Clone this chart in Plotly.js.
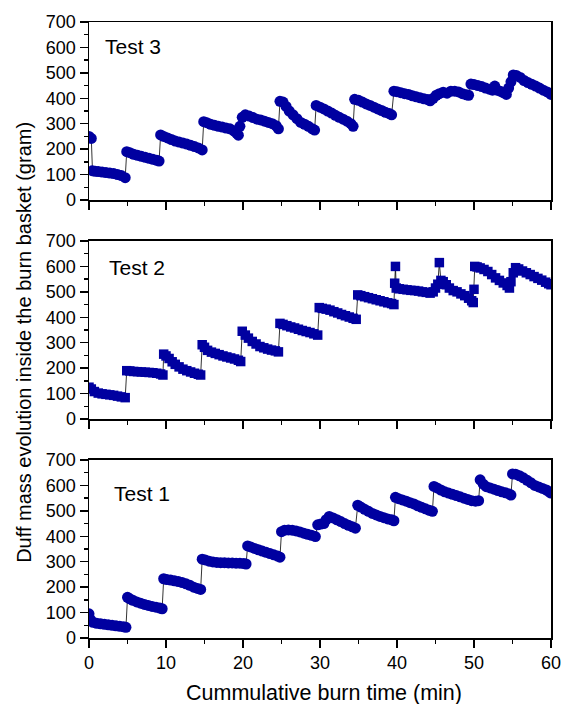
<!DOCTYPE html>
<html><head><meta charset="utf-8">
<script src="https://cdn.plot.ly/plotly-3.0.1.min.js"></script>
<style>html,body{margin:0;padding:0;background:#fff}#chart{width:563px;height:704px}</style>
</head><body><div id="chart"></div>
<script>
// Test 3 (top panel)
const t3x = [0,0.3,0.45,0.8,1.2,1.7,2.2,2.7,3.2,3.7,4.2,4.7,
 4.9,5.3,5.8,6.3,6.8,7.3,7.8,8.3,8.8,9.1,
 9.3,9.7,10.2,10.7,11.2,11.7,12.2,12.7,13.2,13.7,14.2,14.7,
 14.9,15.3,15.8,16.3,16.8,17.3,17.8,18.3,18.8,19.2,19.4,
 19.6,19.9,20.3,20.8,21.3,21.8,22.3,22.8,23.3,23.8,24.3,24.6,
 24.8,25.2,25.6,26.0,26.5,27.0,27.5,28.0,28.5,29.0,29.3,
 29.5,30.0,30.5,31.0,31.5,32.0,32.5,33.0,33.5,34.0,34.3,
 34.5,35.0,35.5,36.0,36.5,37.0,37.5,38.0,38.5,39.0,39.3,
 39.6,40.0,40.5,41.0,41.5,42.0,42.5,43.0,43.5,44.0,44.3,44.7,45.1,45.5,46.0,46.5,47.0,47.5,48.0,48.5,49.0,49.3,
 49.6,50.0,50.5,51.0,51.5,52.0,52.4,52.7,53.0,53.4,53.8,54.2,
 54.5,54.8,55.1,55.5,56.0,56.5,57.0,57.5,58.0,58.5,59.0,59.5,60.0];
const t3y = [250,242,115,113,112,110,108,106,104,100,96,88,
 190,186,180,176,172,168,164,160,156,153,
 256,250,244,238,232,228,224,220,215,210,205,197,
 308,304,298,294,290,287,283,280,272,262,255,
 290,325,335,330,324,318,315,310,305,300,292,280,
 388,385,368,350,335,320,305,298,290,280,275,
 372,365,358,350,342,333,325,318,310,300,290,
 396,392,385,378,372,365,358,352,345,340,335,
 428,426,422,418,415,410,406,402,398,395,390,400,412,418,424,420,428,428,425,418,414,412,
 456,454,450,446,440,436,432,448,432,428,422,415,
 440,465,492,490,482,470,462,455,448,440,432,425,415];

// Test 2 (middle panel)
const t2x = [0,0.3,0.7,1.2,1.7,2.2,2.7,3.2,3.7,4.2,4.7,
 4.9,5.3,5.8,6.3,6.8,7.3,7.8,8.3,8.8,9.3,9.6,
 9.7,10.0,10.4,10.8,11.2,11.7,12.2,12.7,13.2,13.7,14.2,14.5,
 14.7,15.0,15.4,15.9,16.4,16.9,17.4,17.9,18.4,18.9,19.4,19.7,
 19.9,20.3,20.7,21.2,21.7,22.2,22.7,23.2,23.7,24.2,24.6,
 24.8,25.2,25.7,26.2,26.7,27.2,27.7,28.2,28.7,29.2,29.7,
 29.9,30.3,30.8,31.3,31.8,32.3,32.8,33.3,33.8,34.3,34.7,
 34.9,35.3,35.8,36.3,36.8,37.3,37.8,38.3,38.8,39.3,39.6,
 39.7,39.8,39.9,40.3,40.8,41.3,41.8,42.3,42.8,43.3,43.8,44.3,44.7,45.0,45.3,45.5,45.7,46.0,46.4,46.8,47.3,47.8,48.3,48.8,49.3,49.7,49.9,50.0,
 50.1,50.4,50.8,51.3,51.8,52.3,52.8,53.3,53.8,54.3,54.6,
 54.8,55.1,55.4,55.8,56.3,56.8,57.3,57.8,58.3,58.8,59.3,59.7,60.0];
const t2y = [125,118,108,102,99,97,95,93,90,87,84,
 190,189,187,186,185,184,183,182,180,177,173,
 255,248,238,225,215,205,196,190,185,180,176,173,
 292,282,270,263,258,253,248,244,240,236,231,226,
 345,330,318,305,295,285,280,275,271,268,264,
 376,372,367,362,358,353,348,344,340,335,330,
 438,435,432,428,422,417,411,406,401,396,392,
 488,485,481,477,473,469,465,461,457,454,450,
 534,600,515,512,510,508,506,505,503,500,498,495,500,515,530,615,545,540,528,515,505,500,492,485,475,465,458,510,
 600,598,594,588,580,568,555,545,535,525,515,
 540,575,595,590,582,575,568,560,553,546,538,532,528];

// Test 1 (bottom panel)
const t1x = [0,0.2,0.5,1.0,1.5,2.0,2.5,3.0,3.5,4.0,4.5,4.8,
 5.0,5.3,5.7,6.2,6.7,7.2,7.7,8.2,8.7,9.2,9.5,
 9.7,10.1,10.6,11.1,11.6,12.1,12.6,13.1,13.6,14.1,14.5,
 14.7,15.1,15.6,16.1,16.6,17.1,17.6,18.1,18.6,19.1,19.6,20.1,20.4,
 20.6,21.0,21.5,22.0,22.5,23.0,23.5,24.0,24.5,24.8,
 25.0,25.4,25.9,26.4,26.9,27.4,27.9,28.4,28.9,29.4,
 29.7,30.1,30.5,30.8,31.2,31.7,32.2,32.7,33.2,33.7,34.2,34.6,
 34.9,35.3,35.8,36.3,36.8,37.3,37.8,38.3,38.8,39.3,39.6,
 39.8,40.2,40.7,41.2,41.7,42.2,42.7,43.2,43.7,44.2,44.6,
 44.8,45.2,45.7,46.2,46.7,47.2,47.7,48.2,48.7,49.2,49.7,50.2,50.6,
 50.8,51.2,51.6,52.1,52.6,53.1,53.6,54.1,54.6,54.8,
 55.0,55.4,55.9,56.4,56.9,57.4,57.9,58.4,58.9,59.4,59.8,60.0];
const t1y = [95,72,62,58,56,54,52,50,48,46,44,42,
 160,154,148,142,137,132,128,124,121,118,115,
 233,230,228,225,222,218,213,207,200,195,191,
 310,307,302,299,297,296,296,295,295,294,294,293,291,
 362,358,352,347,342,337,332,327,322,318,
 418,424,425,424,421,417,412,408,404,399,
 445,448,450,465,478,472,465,458,450,443,437,432,
 522,515,506,498,490,484,478,473,468,465,461,
 553,548,543,538,532,527,520,514,508,502,498,
 596,590,582,575,570,565,560,555,550,545,540,538,540,
 622,605,595,590,585,580,575,571,566,562,
 645,644,638,630,620,610,600,594,588,582,574,570];

const panelLabels = ['Test 3','Test 2','Test 1'];
const labelX = [1.8, 2.3, 3.0];
const labelY = [603, 597, 569];
const xTitle = 'Cummulative burn time (min)';
const yTitle = 'Duff mass evolution inside the burn basket (gram)';

const blue = 'rgb(0,0,160)';
const font = 'Arial, "Liberation Sans", sans-serif';

function tr(x, y, xa, ya, sym, size) {
  return {x: x, y: y, xaxis: xa, yaxis: ya, type: 'scatter', mode: 'lines+markers',
    line: {color: '#000', width: 0.8},
    marker: {color: blue, size: size, symbol: sym, line: {width: 0}},
    showlegend: false, hoverinfo: 'skip'};
}
const data = [
  tr(t3x, t3y, 'x', 'y', 'circle', 11),
  tr(t2x, t2y, 'x2', 'y2', 'square', 9.5),
  tr(t1x, t1y, 'x3', 'y3', 'circle', 11)
];

function xax(anchor, labels) {
  return {anchor: anchor, range: [0, 60], dtick: 10, tick0: 0, ticks: 'outside', ticklen: 8, tickwidth: 1.5,
    tickcolor: '#000', showline: true, linecolor: '#000', linewidth: 1.5, mirror: true,
    showgrid: false, zeroline: false, showticklabels: labels,
    tickfont: {family: font, size: 18, color: '#000'},
    minor: {dtick: 5, ticks: 'outside', ticklen: 4, tickwidth: 1.5, tickcolor: '#000', showgrid: false}};
}
function yax(anchor, dom) {
  return {anchor: anchor, domain: dom, range: [0, 700], dtick: 100, tick0: 0, ticks: 'outside', ticklen: 8, tickwidth: 1.5,
    tickcolor: '#000', showline: true, linecolor: '#000', linewidth: 1.5, mirror: true,
    showgrid: false, zeroline: false,
    tickfont: {family: font, size: 18, color: '#000'},
    minor: {dtick: 50, ticks: 'outside', ticklen: 4, tickwidth: 1.5, tickcolor: '#000', showgrid: false}};
}

const annotations = [];
const refs = [['x','y'],['x2','y2'],['x3','y3']];
for (let i = 0; i < 3; i++) {
  annotations.push({xref: refs[i][0], yref: refs[i][1], x: labelX[i], y: labelY[i], text: panelLabels[i],
    showarrow: false, xanchor: 'left', yanchor: 'middle', font: {family: font, size: 21, color: '#000'}});
}
annotations.push({xref: 'paper', yref: 'paper', x: 0.508, y: -0.089, text: xTitle, showarrow: false,
  xanchor: 'center', yanchor: 'middle', font: {family: font, size: 21.5, color: '#000'}});
annotations.push({xref: 'paper', yref: 'paper', x: -0.141, y: 0.4805, text: yTitle, showarrow: false, textangle: -90,
  xanchor: 'center', yanchor: 'middle', font: {family: font, size: 20, color: '#000'}});

const layout = {
  width: 563, height: 704,
  margin: {l: 89, r: 12, t: 22, b: 66},
  paper_bgcolor: '#fff', plot_bgcolor: '#fff',
  xaxis: xax('y', false),
  xaxis2: xax('y2', false),
  xaxis3: xax('y3', true),
  yaxis: yax('x', [0.711, 1]),
  yaxis2: yax('x2', [0.3555, 0.6445]),
  yaxis3: yax('x3', [0, 0.289]),
  annotations: annotations,
  showlegend: false
};
Plotly.newPlot('chart', data, layout, {staticPlot: true, displayModeBar: false});
</script>
</body></html>
